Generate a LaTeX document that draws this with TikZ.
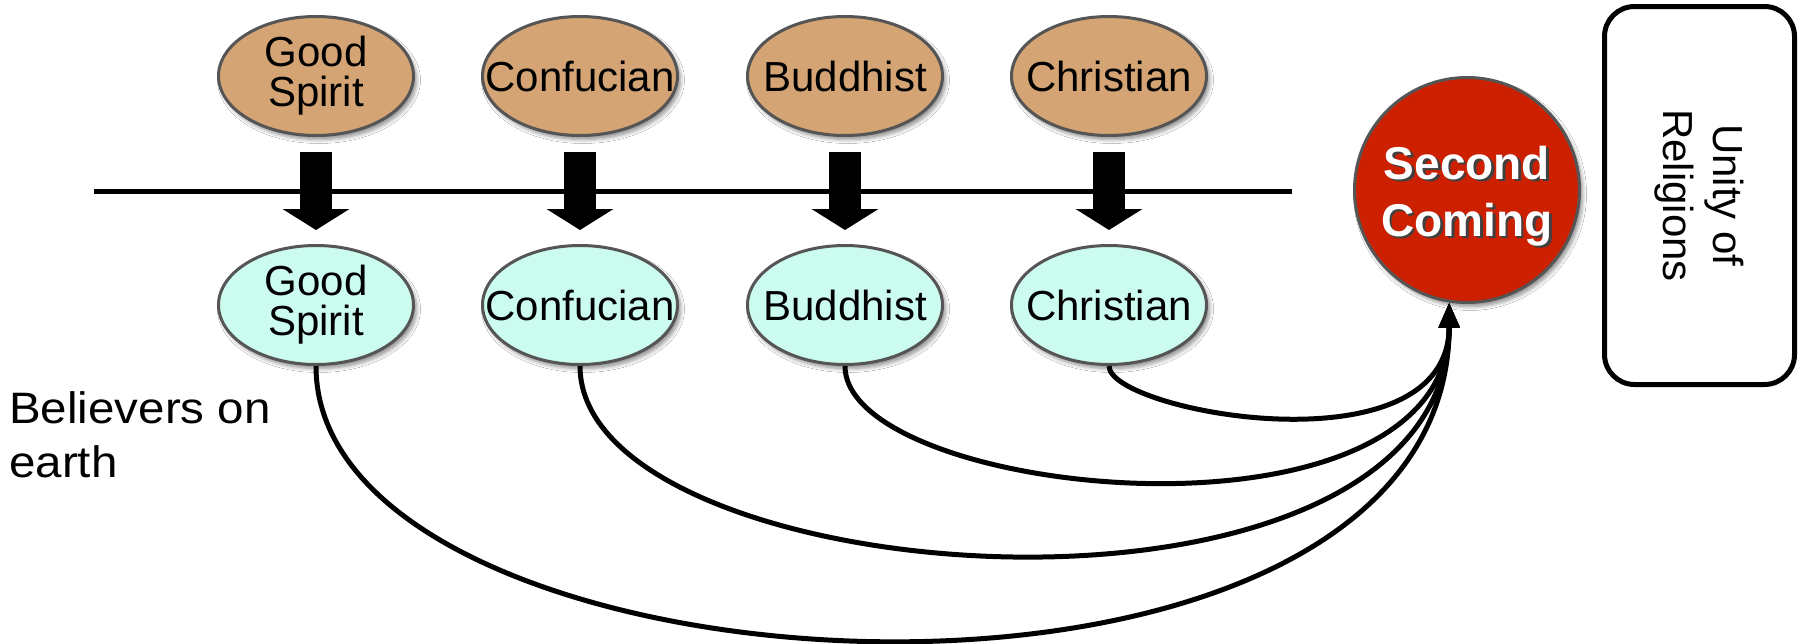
\documentclass[tikz,border=0pt]{standalone}
\usepackage{fontspec}
\setmainfont{Liberation Sans}
\newfontfamily\widesans[FakeStretch=1.08]{Liberation Sans}
\usetikzlibrary{arrows.meta,shapes.geometric,shadows.blur}
\definecolor{tanfill}{RGB}{212,164,116}
\definecolor{cyanfill}{RGB}{204,252,240}
\definecolor{redfill}{RGB}{204,32,0}
\definecolor{rimgray}{RGB}{85,85,85}
\newcommand\shadowline[1]{\leavevmode\rlap{\hspace{2.5pt}\raisebox{-2.5pt}{\textcolor{black!75}{#1}}}#1}
\begin{document}
\begin{tikzpicture}[x=1pt,y=-1pt,
  softshadow/.style={blur shadow={shadow xshift=3pt,shadow yshift=-4pt,shadow opacity=45,shadow blur steps=6,shadow blur radius=4pt}},
  relnode/.style={ellipse, draw=rimgray, line width=3pt, minimum width=195pt, minimum height=119pt,
                  inner xsep=-40pt, inner ysep=-15pt, align=center, font=\fontsize{42}{40}\selectfont, softshadow},
  heaven/.style={relnode, fill=tanfill},
  earthly/.style={relnode, fill=cyanfill},
  blockarrow/.style={line width=32pt, -{Triangle[length=21pt,width=66pt]}},
  curve/.style={line width=5pt, -{Triangle[length=25pt,width=20pt]}},
]
\useasboundingbox[fill=white] (0,0) rectangle (1798,643);

% upper (spirit world)
\node[heaven] (t1) at (316,76) {Good\\Spirit};
\node[heaven] (t2) at (580,76) {Confucian};
\node[heaven] (t3) at (845,76) {Buddhist};
\node[heaven] (t4) at (1109,76) {Christian};

% lower (earth)
\node[earthly] (b1) at (316,305) {Good\\Spirit};
\node[earthly] (b2) at (580,305) {Confucian};
\node[earthly] (b3) at (845,305) {Buddhist};
\node[earthly] (b4) at (1109,305) {Christian};

% dividing line
\coordinate (hl) at (94,191);
\coordinate (hr) at (1292,191);
\draw[line width=5pt] (hl) -- (hr);

% block arrows
\foreach \i in {1,2,3,4}{
  \draw[blockarrow] ([yshift=-15pt]t\i.south) -- ([yshift=14pt]b\i.north);
}

% Second Coming
\node[circle, fill=redfill, draw=rimgray, line width=3pt, minimum size=225pt, inner sep=0pt, softshadow,
      label={[text=white, font=\bfseries\fontsize{46}{57}\selectfont, align=center, yshift=-7pt]center:{\shadowline{Second}\\\shadowline{Coming}}}]
      (sc) at (1467,190) {};

% Unity of Religions
\node[draw, line width=5pt, rounded corners=30pt, rotate=-90, minimum width=378pt, minimum height=190pt,
      align=center, inner sep=0pt, font=\fontsize{42}{50}\selectfont]
      (ur) at (1699.5,195.5) {Unity of\\Religions};

% label
\node[anchor=north west, inner sep=0pt, align=left, font=\widesans\fontsize{44}{54}\selectfont]
      (bel) at (9,391) {Believers on\\earth};

% curves
\draw[curve] (b1.south) .. controls +(0,343) and +(0,469) .. (sc.-99);
\draw[curve] (b2.south) .. controls +(0,230) and +(0,356) .. (sc.-99);
\draw[curve] (b3.south) .. controls +(0,132) and +(0,258) .. (sc.-99);
\draw[curve] (b4.south) .. controls +(0,46) and +(0,172) .. (sc.-99);
\end{tikzpicture}
\end{document}
